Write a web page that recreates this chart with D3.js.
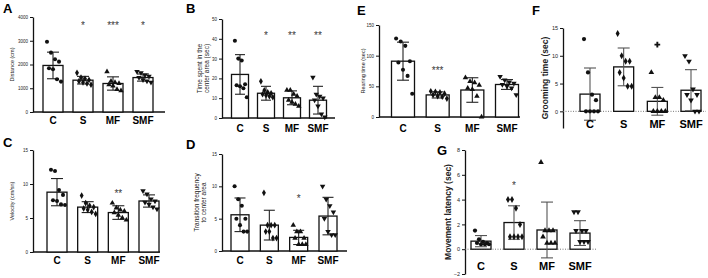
<!DOCTYPE html>
<html>
<head>
<meta charset="utf-8">
<script src="https://cdn.jsdelivr.net/npm/d3@7"></script>
<style>
  body { margin: 0; background: #fff; }
  svg { display: block; font-family: Arial, "Liberation Sans", sans-serif; }
  .tick text { fill: #222; }
  .tick line, .domain { stroke: #111; }
  .stars { opacity: 0.97; }
</style>
</head>
<body>
<svg id="chart" width="708" height="278"></svg>
<script>
var cats = ["C", "S", "MF", "SMF"];

// A - distance (cm)
var aMean = [1960, 1340, 1200, 1450];
var aSD = [560, 160, 280, 150];
var aPoints = [
  [2960, 2500, 2220, 2120, 1840, 1800, 1380, 1280],
  [1650, 1450, 1400, 1350, 1300, 1250, 1200, 1150],
  [1700, 1300, 1250, 1200, 1150, 1100, 950, 900],
  [1700, 1650, 1550, 1500, 1450, 1350, 1300, 1250]
];
var aStars = ["", "*", "***", "*"];

// B - time spent in the center area (sec)
var bMean = [22, 12.5, 10.2, 9];
var bSD = [10, 3.5, 3.5, 7];
var bPoints = [
  [39, 30, 29, 17, 16.5, 16, 15, 10.5],
  [18.5, 14, 13, 12.5, 12, 11.5, 11, 10.5],
  [14, 14, 12, 11, 9, 8, 7, 6],
  [20.5, 12, 11, 10, 9, 6, 2, 0.5]
];
var bStars = ["", "*", "**", "**"];

// C - velocity (cm/sn)
var cMean = [8.8, 6.6, 5.8, 7.5];
var cSD = [2.0, 0.8, 1.0, 0.9];
var cPoints = [
  [12.1, 11.9, 9.1, 8.4, 7.6, 7.5, 7.0, 6.9],
  [8.3, 7.2, 6.8, 6.6, 6.4, 6.2, 5.9, 5.6],
  [7.2, 6.5, 6.2, 6.0, 5.8, 5.4, 5.0, 4.7],
  [9.0, 8.5, 7.8, 7.5, 7.3, 7.0, 6.6, 6.3]
];
var cStars = ["", "", "**", ""];

// D - transition frequency to center area
var dMean = [5.6, 4.0, 2.1, 5.4];
var dSD = [2.6, 2.3, 1.1, 2.9];
var dPoints = [
  [10, 8, 7, 5, 5, 4, 3, 3],
  [9, 4, 4, 4, 3, 3, 2, 2],
  [4, 3, 3, 2, 2, 1, 1, 1],
  [10, 8, 7, 6, 5, 3, 2.5, 2.5]
];
var dStars = ["", "", "*", ""];

// E - rearing time (sec)
var eMean = [91, 36, 44, 53];
var eSD = [31, 5, 20, 8];
var ePoints = [
  [128, 123, 116, 91, 89, 77, 67, 38],
  [42, 41, 40, 38, 36, 34, 33, 30],
  [64, 58, 56, 52, 47, 45, 34, 0],
  [66, 60, 57, 55, 53, 50, 47, 36]
];
var eStars = ["", "***", "", ""];

// F - grooming time (sec)
var fMean = [3.1, 8.0, 1.8, 3.8];
var fSD = [4.7, 3.4, 2.5, 3.7];
var fPoints = [
  [13, 7, 3, 2, 0, 0, 0, 0],
  [14, 10, 9, 9, 7, 6, 4.5, 4.5],
  [7, 2.5, 2.5, 2, 0, 0, 0, 0],
  [10, 9, 4, 3, 3, 2, 0, 0]
];
var fOutliers = [{ cat: "MF", value: 12 }];
var fStars = ["", "", "", ""];

// G - movement latency (sec)
var gMean = [0.65, 2.15, 1.55, 1.3];
var gSD = [0.45, 1.35, 2.25, 1.0];
var gPoints = [
  [1.5, 0.8, 0.6, 0.5, 0.5, 0.4, 0.4, 0.4],
  [4, 4, 3.3, 2, 1, 1, 1, 1],
  [7, 1.5, 1.5, 1.5, 1, 0.5, 0.5, 0.5],
  [3, 3, 1.5, 1.5, 1.5, 0.6, 0.6, 0.6]
];
var gStars = ["", "*", "", ""];

var shapes = [d3.symbolCircle, d3.symbolDiamond, d3.symbolTriangle, d3.symbolTriangle];
var svg = d3.select("#chart");

function drawPanel(p) {
  var g = svg.append("g");
  var y = d3.scaleLinear().domain(p.domain).range(p.yRange);
  var x = d3.scalePoint().domain(cats).range(p.xRange);

  // panel letter
  g.append("text").attr("x", p.letterPos[0]).attr("y", p.letterPos[1])
    .attr("font-size", 13).attr("font-weight", "bold").text(p.letter);

  // y axis
  var yAxis = d3.axisLeft(y).tickValues(p.ticks).tickFormat(d3.format("d"))
    .tickSize(3).tickPadding(2).tickSizeOuter(0);
  var ax = g.append("g").attr("transform", "translate(" + p.axisX + ",0)").call(yAxis);
  ax.select(".domain").attr("stroke-width", 1.3);
  ax.selectAll(".tick line").attr("stroke-width", 1);
  ax.selectAll(".tick text").style("font-size", p.tickFont + "px");

  // y label
  var lab = g.append("text")
    .attr("transform", "translate(" + p.yLabelX + "," + (p.yRange[0] + p.yRange[1]) / 2 + ") rotate(-90)")
    .attr("text-anchor", "middle")
    .attr("font-size", p.yLabelFont)
    .attr("font-weight", p.yLabelBold ? "bold" : "normal")
    .attr("fill", "#222");
  p.yLabel.forEach(function (t, i) {
    lab.append("tspan").attr("x", 0).attr("dy", i == 0 ? 0 : p.yLabelFont * 1.15).text(t);
  });

  // x axis or dotted zero line
  if (p.dotted) {
    g.append("line").attr("x1", p.axisX).attr("x2", p.xEnd)
      .attr("y1", y(0)).attr("y2", y(0))
      .attr("stroke", "#666").attr("stroke-width", 0.9).attr("stroke-dasharray", "1,1.5");
  } else {
    g.append("line").attr("x1", p.axisX).attr("x2", p.xEnd)
      .attr("y1", y(0)).attr("y2", y(0))
      .attr("stroke", "#111").attr("stroke-width", 1.3);
  }

  // bars
  g.selectAll(".bar").data(p.means).enter().append("rect")
    .attr("x", function (d, i) { return x(cats[i]) - p.barW / 2; })
    .attr("y", function (d) { return y(d); })
    .attr("width", p.barW)
    .attr("height", function (d) { return y(0) - y(d); })
    .attr("fill", "#fff").attr("stroke", "#111").attr("stroke-width", 1.3);

  // error bars
  var eb = g.selectAll(".err").data(p.means).enter().append("g");
  eb.append("line")
    .attr("x1", function (d, i) { return x(cats[i]); })
    .attr("x2", function (d, i) { return x(cats[i]); })
    .attr("y1", function (d, i) { return y(d - p.sds[i]); })
    .attr("y2", function (d, i) { return y(d + p.sds[i]); });
  ["-", "+"].forEach(function (s) {
    eb.append("line")
      .attr("x1", function (d, i) { return x(cats[i]) - p.capW; })
      .attr("x2", function (d, i) { return x(cats[i]) + p.capW; })
      .attr("y1", function (d, i) { return y(s == "+" ? d + p.sds[i] : d - p.sds[i]); })
      .attr("y2", function (d, i) { return y(s == "+" ? d + p.sds[i] : d - p.sds[i]); });
  });
  eb.selectAll("line").attr("stroke", p.errColor).attr("stroke-width", 1.1);

  // points
  var pts = [];
  p.points.forEach(function (arr, gi) {
    arr.forEach(function (v, k) {
      pts.push({ gi: gi, v: v, off: ((k % 4) - 1.5) * p.barW / 5 + (Math.floor(k / 4) % 2 ? p.barW / 10 : 0) });
    });
  });
  g.selectAll(".pt").data(pts).enter().append("path")
    .attr("d", function (d) { return d3.symbol().type(shapes[d.gi]).size(p.ptSize)(); })
    .attr("transform", function (d) {
      return "translate(" + (x(cats[d.gi]) + d.off) + "," + y(d.v) + ")" + (d.gi == 3 ? " rotate(180)" : "");
    })
    .attr("fill", "#111");

  (p.outliers || []).forEach(function (o) {
    g.append("path").attr("d", d3.symbol().type(d3.symbolCross).size(p.ptSize * 1.3)())
      .attr("transform", "translate(" + x(o.cat) + "," + y(o.value) + ")")
      .attr("fill", "#111");
  });

  // significance stars
  g.append("g").attr("class", "stars").selectAll("text").data(p.stars).enter().append("text")
    .attr("x", function (d, i) { return x(cats[i]); })
    .attr("y", p.starY)
    .attr("text-anchor", "middle").attr("font-size", 10).attr("fill", "#333")
    .text(function (d) { return d; });

  // category labels
  g.selectAll(".cat").data(cats).enter().append("text")
    .attr("x", function (d) { return x(d); })
    .attr("y", p.catY)
    .attr("text-anchor", "middle").attr("font-size", p.catFont).attr("font-weight", "bold")
    .text(function (d) { return d; });
}

drawPanel({ letter: "A", letterPos: [3, 13], axisX: 33, domain: [0, 4000], yRange: [112, 17],
  ticks: [0, 1000, 2000, 3000, 4000], xRange: [53, 143], xEnd: 165, barW: 20, capW: 6,
  means: aMean, sds: aSD, points: aPoints, stars: aStars, starY: 29, catY: 124,
  yLabel: ["Distance (cm)"], yLabelX: 14, yLabelFont: 5.5, tickFont: 4.5, catFont: 10,
  errColor: "#222", ptSize: 13 });

drawPanel({ letter: "B", letterPos: [186, 13], axisX: 222, domain: [0, 50], yRange: [118, 19],
  ticks: [0, 10, 20, 30, 40, 50], xRange: [240, 318], xEnd: 335, barW: 17, capW: 5,
  means: bMean, sds: bSD, points: bPoints, stars: bStars, starY: 39, catY: 132,
  yLabel: ["Time spent in the", "center area (sec)"], yLabelX: 202, yLabelFont: 6.5, tickFont: 4.5, catFont: 10,
  errColor: "#222", ptSize: 13 });

drawPanel({ letter: "C", letterPos: [3, 147], axisX: 33, domain: [0, 15], yRange: [252, 150],
  ticks: [0, 5, 10, 15], xRange: [57, 149], xEnd: 160, barW: 20, capW: 6,
  means: cMean, sds: cSD, points: cPoints, stars: cStars, starY: 197, catY: 264,
  yLabel: ["Velocity (cm/sn)"], yLabelX: 14, yLabelFont: 5.5, tickFont: 4.5, catFont: 10,
  errColor: "#222", ptSize: 13 });

drawPanel({ letter: "D", letterPos: [186, 149], axisX: 222, domain: [0, 15], yRange: [251, 154],
  ticks: [0, 5, 10, 15], xRange: [240, 328], xEnd: 347, barW: 18, capW: 5.5,
  means: dMean, sds: dSD, points: dPoints, stars: dStars, starY: 202, catY: 264,
  yLabel: ["Transition frequency", "to center area"], yLabelX: 199, yLabelFont: 6.5, tickFont: 4.5, catFont: 10,
  errColor: "#222", ptSize: 13 });

drawPanel({ letter: "E", letterPos: [357, 15], axisX: 379, domain: [0, 150], yRange: [117, 25],
  ticks: [0, 50, 100, 150], xRange: [403, 507], xEnd: 520, barW: 23, capW: 6,
  means: eMean, sds: eSD, points: ePoints, stars: eStars, starY: 74, catY: 132,
  yLabel: ["Rearing time (sec)"], yLabelX: 365, yLabelFont: 5.5, tickFont: 4.5, catFont: 10,
  errColor: "#222", ptSize: 13 });

drawPanel({ letter: "F", letterPos: [532, 15], axisX: 563, domain: [-3, 15], yRange: [128, 28],
  ticks: [0, 5, 10, 15], xRange: [590, 691], xEnd: 706, barW: 20, capW: 6,
  means: fMean, sds: fSD, points: fPoints, outliers: fOutliers, stars: fStars, starY: 20, catY: 128,
  yLabel: ["Grooming time (sec)"], yLabelX: 548, yLabelFont: 8.5, yLabelBold: true, tickFont: 5.5, catFont: 11,
  errColor: "#555", ptSize: 14, dotted: true });

drawPanel({ letter: "G", letterPos: [437, 155], axisX: 465, domain: [-2, 8], yRange: [274, 150],
  ticks: [-2, 0, 2, 4, 6, 8], xRange: [481, 580], xEnd: 597, barW: 20, capW: 6,
  means: gMean, sds: gSD, points: gPoints, stars: gStars, starY: 189, catY: 270,
  yLabel: ["Movement latency (sec)"], yLabelX: 451, yLabelFont: 8.5, yLabelBold: true, tickFont: 5.5, catFont: 11,
  errColor: "#555", ptSize: 14, dotted: true });
</script>
</body>
</html>
